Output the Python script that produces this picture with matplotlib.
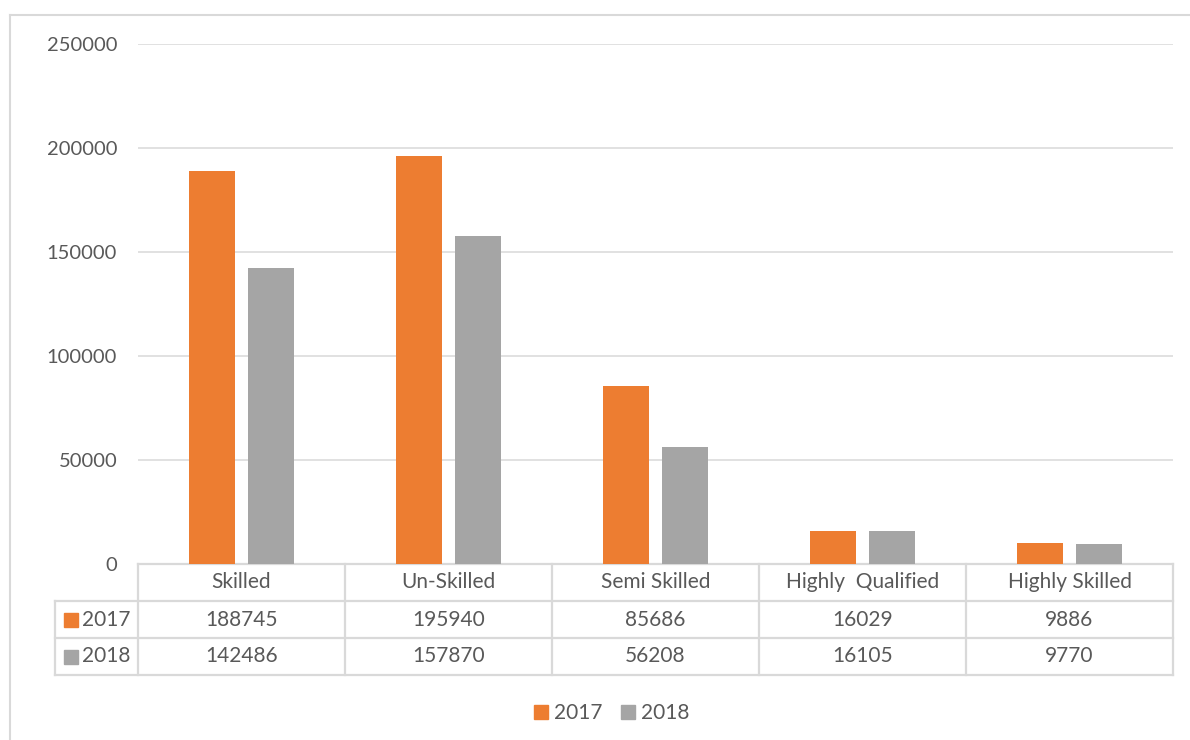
import matplotlib.pyplot as plt
from matplotlib.lines import Line2D
from matplotlib.patches import Patch
from matplotlib.transforms import blended_transform_factory

categories = ['Skilled', 'Un-Skilled', 'Semi Skilled', 'Highly  Qualified', 'Highly Skilled']
years = ['2017', '2018']
values_2017 = [188745, 195940, 85686, 16029, 9886]
values_2018 = [142486, 157870, 56208, 16105, 9770]
y_ticks = [0, 50000, 100000, 150000, 200000, 250000]

colors = ['#ED7D31', '#A5A5A5']
text_color = '#595959'
line_color = '#D9D9D9'

plt.rcParams['font.family'] = ['Lato', 'DejaVu Sans']
plt.rcParams['font.size'] = 15

W, H = 1190, 740
fig = plt.figure(figsize=(W / 100, H / 100), dpi=100)
ax = fig.add_axes([138 / W, 1 - 564 / H, 1035 / W, 520 / H])

n = len(categories)
centers = [i + 0.5 for i in range(n)]
offset, width = 0.1425, 0.227
ax.bar([c - offset for c in centers], values_2017, width, color=colors[0], zorder=3)
ax.bar([c + offset for c in centers], values_2018, width, color=colors[1], zorder=3)

ax.set_xlim(0, n)
ax.set_ylim(0, 250000)
ax.set_yticks(y_ticks)
ax.set_yticklabels([str(t) for t in y_ticks])
ax.tick_params(axis='y', length=0, pad=15, colors=text_color, labelsize=14.5)
ax.set_xticks([])
ax.grid(axis='y', color=line_color, linewidth=1.1, zorder=0)
for s in ax.spines.values():
    s.set_visible(False)

# data table under the plot area (x in data units, y in axes fraction)
tr = blended_transform_factory(ax.transData, ax.transAxes)
row_h = 37 / 520
label_left = -(138 - 55) / 207
lw = 1.6
kw = dict(transform=tr, color=line_color, lw=lw, clip_on=False, solid_capstyle='projecting')
ax.add_line(Line2D([0, n], [0, 0], **kw))
for r in (1, 2, 3):
    ax.add_line(Line2D([label_left, n], [-r * row_h, -r * row_h], **kw))
ax.add_line(Line2D([label_left, label_left], [-row_h, -3 * row_h], **kw))
for i in range(n + 1):
    ax.add_line(Line2D([i, i], [0, -3 * row_h], **kw))

for i, cat in enumerate(categories):
    ax.text(centers[i], -0.5 * row_h, cat, transform=tr, ha='center', va='center',
            color=text_color)
    ax.text(centers[i], -1.5 * row_h, str(values_2017[i]), transform=tr, ha='center',
            va='center', color=text_color)
    ax.text(centers[i], -2.5 * row_h, str(values_2018[i]), transform=tr, ha='center',
            va='center', color=text_color)

sq = 14 / 207
for r, (yr, c) in enumerate(zip(years, colors)):
    yc = -(1.5 + r) * row_h
    x0 = -(138 - 64) / 207
    ax.add_patch(plt.Rectangle((x0, yc - 7 / 520), sq, 14 / 520, transform=tr,
                               color=c, clip_on=False))
    ax.text(-(138 - 82) / 207, yc, yr, transform=tr, ha='left', va='center',
            color=text_color)

# legend below the table
handles = [Patch(color=c, label=y) for c, y in zip(colors, years)]
fig.legend(handles=handles, loc='center', bbox_to_anchor=(612 / W, 1 - 713 / H), ncol=2,
           frameon=False, handlelength=0.65, handleheight=0.65, handletextpad=0.3,
           columnspacing=0.9, labelcolor=text_color)

# chart area border
fig.add_artist(Line2D([10 / W, 10 / W], [0, 1 - 15 / H], color=line_color, lw=1.5))
fig.add_artist(Line2D([10 / W, 1], [1 - 15 / H, 1 - 15 / H], color=line_color, lw=1.5))

fig.savefig('out.png', dpi=100)
